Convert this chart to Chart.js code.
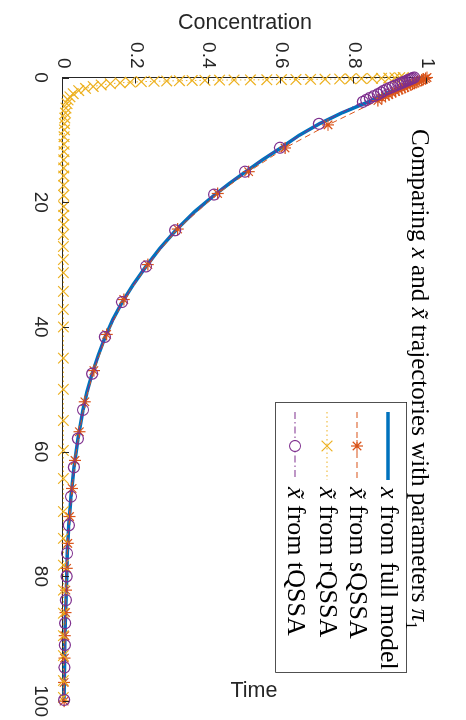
<!DOCTYPE html>
<html>
<head>
<meta charset="utf-8">
<script src="https://cdn.jsdelivr.net/npm/chart.js@4/dist/chart.umd.min.js"></script>
<style>
body { margin: 0; background: #fff; width: 466px; height: 720px; overflow: hidden; position: relative; }
#wrap { position: absolute; left: 0; top: 0; width: 720px; height: 466px; transform-origin: 0 0; transform: translateX(466px) rotate(90deg); }
#title { position: absolute; left: 129px; top: 31px; line-height: 30px; font-family: 'Liberation Serif', serif; font-size: 25px; color: #000; white-space: nowrap; }
#title sub { font-size: 16px; }
.lab { position: absolute; font-family: 'Liberation Sans', Arial, sans-serif; font-size: 21.5px; color: #262626; transform: translate(-50%, -50%); white-space: nowrap; }
</style>
</head>
<body>
<div id="wrap">
  <canvas id="grafico" width="720" height="466"></canvas>
  <div id="title">Comparing <i>x</i> and <i>x&#771;</i> trajectories with parameters <i>&pi;</i><sub>1</sub></div>
</div>
<div class="lab" style="left:245px;top:22px">Concentration</div>
<div class="lab" style="left:254px;top:690px">Time</div>
<script>
// valores (tiempo, concentracion)
var tFull = [0, 1, 2.3, 4, 5.7, 7.4, 9.3, 11.3, 13.2, 15.1, 17, 18.8, 21.5, 24.5, 27.4, 30.3, 33.2, 36, 38.8, 41.6, 44.5, 47.5, 50.4, 53.3, 57.9, 62.5, 67.2, 71.8, 76.3, 80, 84, 87.5, 91, 94.6, 100];
var xFull = [0.99, 0.95, 0.898, 0.835, 0.765, 0.705, 0.648, 0.598, 0.548, 0.502, 0.457, 0.417, 0.362, 0.31, 0.266, 0.228, 0.193, 0.163, 0.137, 0.116, 0.097, 0.08, 0.066, 0.055, 0.041, 0.03, 0.022, 0.016, 0.012, 0.01, 0.008, 0.006, 0.005, 0.004, 0.003];

var tS = [0, 0.15, 0.3, 0.45, 0.6, 0.75, 0.9, 1.05, 1.2, 1.4, 1.6, 1.8, 2.0, 2.25, 2.5, 2.75, 3.0, 3.3, 3.7, 7.6, 11.3, 15.1, 18.6, 24.3, 30.0, 35.6, 41.2, 47.0, 52.0, 56.8, 61.4, 65.9, 70.4, 74.7, 78.7, 82.2, 85.8, 89.5, 93.1, 97.0, 100];
var xS = [1.0, 0.996, 0.99, 0.985, 0.978, 0.972, 0.966, 0.96, 0.954, 0.947, 0.939, 0.931, 0.923, 0.914, 0.904, 0.895, 0.886, 0.876, 0.865, 0.728, 0.61, 0.51, 0.425, 0.315, 0.233, 0.167, 0.12, 0.085, 0.06, 0.045, 0.033, 0.025, 0.018, 0.013, 0.01, 0.008, 0.007, 0.005, 0.004, 0.003, 0.003];

var tR = [0, 0.03, 0.06, 0.09, 0.12, 0.15, 0.18, 0.21, 0.24, 0.27, 0.3, 0.32, 0.34, 0.36, 0.38, 0.4, 0.42, 0.45, 0.48, 0.52, 0.56, 0.61, 0.67, 0.75, 0.86, 1.0, 1.2, 1.45, 1.75, 2.1, 2.6, 3.1, 3.6, 4.2, 4.9, 5.7, 6.5, 7.4, 8.4, 9.5, 10.7, 11.9, 13.2, 14.5, 15.8, 17.3, 18.9, 20.7, 22.1, 23.6, 25.2, 27.1, 29.2, 31.3, 34.3, 37.2, 40.0, 45.0, 50.0, 55.0, 59.8, 64.3, 69.6, 73.9, 78.2, 82.2, 85.9, 89.5, 92.7, 96.7, 99.4];
var xR = [0.935, 0.925, 0.912, 0.895, 0.875, 0.85, 0.82, 0.79, 0.76, 0.72, 0.68, 0.64, 0.6, 0.56, 0.515, 0.47, 0.43, 0.39, 0.355, 0.32, 0.285, 0.25, 0.215, 0.185, 0.157, 0.13, 0.105, 0.083, 0.062, 0.043, 0.028, 0.019, 0.014, 0.011, 0.008, 0.007, 0.005, 0.004, 0.004, 0.003, 0.003, 0.003, 0.002, 0.002, 0.002, 0.002, 0.002, 0.002, 0.002, 0.002, 0.001, 0.001, 0.001, 0.001, 0.001, 0.001, 0.001, 0.001, 0.001, 0.001, 0.001, 0.001, 0.001, 0.001, 0.001, 0.001, 0.001, 0.001, 0.001, 0.001, 0.001];

var tT = [0, 0.1, 0.2, 0.3, 0.4, 0.5, 0.65, 0.8, 0.95, 1.1, 1.3, 1.5, 1.7, 1.9, 2.15, 2.4, 2.7, 3.0, 3.3, 3.6, 3.9, 7.43, 11.26, 15.1, 18.77, 24.5, 30.3, 36.0, 41.6, 47.5, 53.3, 57.9, 62.5, 67.2, 71.8, 76.3, 80, 83.8, 87.5, 91, 94.6, 99.8];
var xT = [0.965, 0.961, 0.957, 0.953, 0.949, 0.945, 0.939, 0.933, 0.927, 0.921, 0.913, 0.905, 0.897, 0.889, 0.881, 0.874, 0.865, 0.854, 0.843, 0.833, 0.824, 0.703, 0.596, 0.5, 0.415, 0.308, 0.228, 0.162, 0.115, 0.08, 0.055, 0.041, 0.03, 0.022, 0.016, 0.011, 0.01, 0.008, 0.006, 0.005, 0.004, 0.003];

var timeTicks = [0, 20, 40, 60, 80, 100];
var concTicks = [0, 0.2, 0.4, 0.6, 0.8, 1];

var azul = '#0072BD', naranja = '#D95319', amarillo = '#EDB120', morado = '#7E2F8E';

function puntos(t, v) {
    return t.map(function (tt, i) { return { x: tt, y: v[i] }; });
}

var leyenda = [
    { color: azul, width: 3.5, dash: [], style: false, parts: [['x', true], [' from full model', false]] },
    { color: naranja, width: 1, dash: [6, 4], style: 'star', radius: 6, parts: [['x\u0303', true], [' from sQSSA', false]] },
    { color: amarillo, width: 1, dash: [1.5, 3], style: 'crossRot', radius: 7.5, parts: [['x\u0303', true], [' from rQSSA', false]] },
    { color: morado, width: 1, dash: [7, 3, 1.5, 3], style: 'circle', radius: 5.5, parts: [['x\u0303', true], [' from tQSSA', false]] }
];

var extras = {
    id: 'extras',
    afterDraw: function (chart) {
        var ctx = chart.ctx, a = chart.chartArea;
        var xs = chart.scales.x, ys = chart.scales.y;
        ctx.save();
        // marcas hacia dentro
        ctx.strokeStyle = '#262626';
        ctx.lineWidth = 1;
        ctx.beginPath();
        timeTicks.forEach(function (t) {
            var p = Math.round(xs.getPixelForValue(t)) + 0.5;
            ctx.moveTo(p, a.bottom); ctx.lineTo(p, a.bottom - 6);
        });
        concTicks.forEach(function (c) {
            var p = Math.round(ys.getPixelForValue(c)) + 0.5;
            ctx.moveTo(a.left, p); ctx.lineTo(a.left + 6, p);
        });
        ctx.stroke();

        // leyenda
        var bx = 402, by = 59, bw = 270, bh = 131;
        ctx.fillStyle = '#fff';
        ctx.fillRect(bx, by, bw, bh);
        ctx.strokeStyle = '#262626';
        ctx.lineWidth = 0.8;
        ctx.strokeRect(bx + 0.5, by + 0.5, bw, bh);
        var filas = [78, 109, 139, 171];
        leyenda.forEach(function (e, i) {
            var y = filas[i];
            ctx.strokeStyle = e.color;
            ctx.lineWidth = e.width;
            ctx.setLineDash(e.dash);
            ctx.beginPath();
            ctx.moveTo(412, y); ctx.lineTo(480, y);
            ctx.stroke();
            ctx.setLineDash([]);
            if (e.style) {
                ctx.lineWidth = 1.2;
                ctx.fillStyle = '#fff';
                Chart.helpers.drawPoint(ctx, { pointStyle: e.style, radius: e.radius, rotation: 0, borderWidth: 1.2 }, 446, y);
            }
            var x = 487;
            ctx.fillStyle = '#000';
            ctx.textBaseline = 'middle';
            e.parts.forEach(function (p) {
                ctx.font = (p[1] ? 'italic ' : '') + '26px "Liberation Serif"';
                ctx.fillText(p[0], x, y);
                x += ctx.measureText(p[0]).width;
            });
        });
        ctx.restore();
    }
};

var ctx = document.getElementById('grafico').getContext('2d');
var grafico = new Chart(ctx, {
    type: 'line',
    data: {
        datasets: [
            { data: puntos(tFull, xFull), borderColor: azul, borderWidth: 3.5, pointRadius: 0, order: 4 },
            { data: puntos(tS, xS), borderColor: naranja, borderWidth: 1, borderDash: [6, 4], pointStyle: 'star', pointRadius: 6, pointBorderWidth: 1.2, pointBorderColor: naranja, order: 3 },
            { data: puntos(tR, xR), borderColor: amarillo, borderWidth: 1, borderDash: [1.5, 3], pointStyle: 'crossRot', pointRadius: 7.5, pointBorderWidth: 1.2, pointBorderColor: amarillo, order: 2 },
            { data: puntos(tT, xT), borderColor: morado, borderWidth: 1, borderDash: [7, 3, 1.5, 3], pointStyle: 'circle', pointRadius: 5.5, pointBorderWidth: 1.2, pointBorderColor: morado, pointBackgroundColor: 'rgba(0,0,0,0)', order: 1 }
        ]
    },
    options: {
        responsive: false,
        animation: false,
        events: [],
        clip: false,
        layout: { padding: { left: 0, top: 39, right: 16.5, bottom: 0 } },
        plugins: { legend: { display: false }, tooltip: { enabled: false } },
        scales: {
            x: {
                type: 'linear', min: 0, max: 100,
                afterBuildTicks: function (s) { s.ticks = timeTicks.map(function (v) { return { value: v }; }); },
                afterFit: function (s) { s.height = 63; },
                grid: { display: false },
                border: { display: true, color: '#262626', width: 1 },
                ticks: { font: { family: 'Liberation Sans', size: 19 }, color: '#262626', padding: 3, maxRotation: 0 }
            },
            y: {
                type: 'linear', min: 0, max: 1,
                afterBuildTicks: function (s) { s.ticks = concTicks.map(function (v) { return { value: v }; }); },
                afterFit: function (s) { s.width = 77.5; },
                grid: { display: false },
                border: { display: true, color: '#262626', width: 1 },
                ticks: { font: { family: 'Liberation Sans', size: 19 }, color: '#262626', padding: 1, callback: function (v) { return String(v); } }
            }
        }
    },
    plugins: [extras]
});
</script>
</body>
</html>
